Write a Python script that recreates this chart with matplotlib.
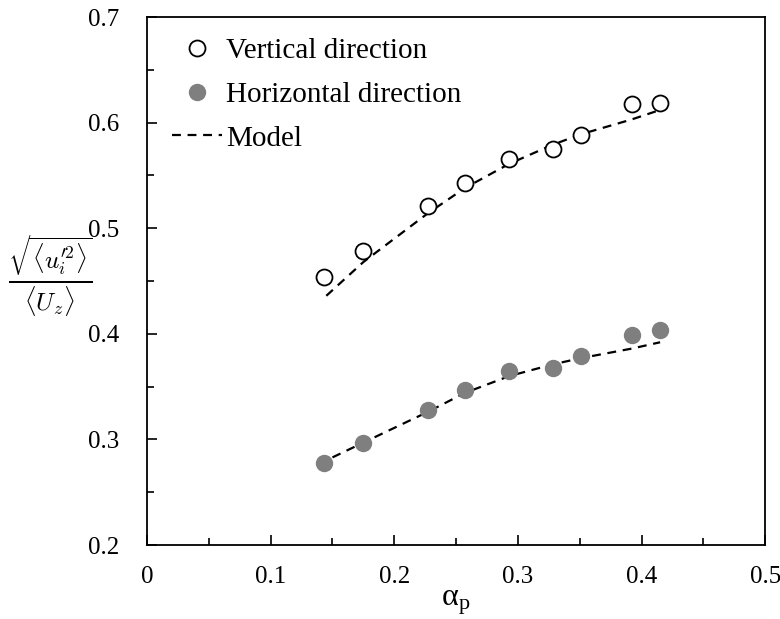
import matplotlib.pyplot as plt
from matplotlib.ticker import MultipleLocator

plt.rcParams['font.family'] = ['Liberation Serif', 'DejaVu Serif']
plt.rcParams['mathtext.fontset'] = 'cm'

alpha_p = [0.143, 0.175, 0.227, 0.257, 0.293, 0.328, 0.351, 0.392, 0.415]
vertical = [0.454, 0.478, 0.521, 0.543, 0.566, 0.575, 0.588, 0.618, 0.619]
horizontal = [0.278, 0.297, 0.328, 0.347, 0.365, 0.368, 0.379, 0.399, 0.404]

model_x_v = [0.145, 0.175, 0.227, 0.257, 0.293, 0.328, 0.351, 0.392, 0.415]
model_v = [0.436, 0.468, 0.514, 0.538, 0.561, 0.579, 0.589, 0.603, 0.612]
model_x_h = [0.150, 0.175, 0.227, 0.257, 0.293, 0.328, 0.351, 0.392, 0.415]
model_h = [0.283, 0.297, 0.326, 0.344, 0.360, 0.371, 0.377, 0.386, 0.392]

fig = plt.figure(figsize=(7.8, 6.19), dpi=100)
ax = fig.add_axes([0.1885, 0.1195, 0.7925, 0.853])

ax.plot(alpha_p, vertical, 'o', ms=11.5, mfc='white', mec='black', mew=1.3,
        label='Vertical direction', zorder=3)
ax.plot(alpha_p, horizontal, 'o', ms=11.5, mfc='#7f7f7f', mec='#7f7f7f',
        label='Horizontal direction', zorder=3)
ax.plot(model_x_v, model_v, '--', color='black', lw=1.6, dashes=(4, 3),
        label='Model')
ax.plot(model_x_h, model_h, '--', color='black', lw=1.6, dashes=(4, 3))

ax.set_xlim(0, 0.5)
ax.set_ylim(0.2, 0.7)
ax.xaxis.set_minor_locator(MultipleLocator(0.05))
ax.yaxis.set_minor_locator(MultipleLocator(0.05))
ax.set_xticks([0, 0.1, 0.2, 0.3, 0.4, 0.5])
ax.set_xticklabels(['0', '0.1', '0.2', '0.3', '0.4', '0.5'])
ax.set_yticks([0.2, 0.3, 0.4, 0.5, 0.6, 0.7])
ax.set_yticklabels(['0.2', '0.3', '0.4', '0.5', '0.6', '0.7'])
ax.tick_params(which='both', direction='in', labelsize=18, width=1.2)
ax.tick_params(which='major', length=7)
ax.tick_params(axis='x', which='major', pad=15)
ax.tick_params(axis='y', which='major', pad=20)
ax.tick_params(which='minor', length=5)
for s in ax.spines.values():
    s.set_linewidth(1.3)

ax.set_xlabel(r'$\mathregular{α_p}$', fontsize=23, labelpad=0)
ax.set_ylabel(r'$\frac{\sqrt{\langle u^{\prime 2}_i \rangle}}{\langle U_z \rangle}$',
              fontsize=26, rotation=0, va='center', ha='center')
ax.yaxis.set_label_coords(-0.157, 0.51)

ax.legend(loc='upper left', frameon=False, fontsize=21, handlelength=1.7,
          handletextpad=0.15, labelspacing=0.6, borderaxespad=0.3,
          bbox_to_anchor=(0.008, 1.0))

fig.savefig('out.png', dpi=100)
